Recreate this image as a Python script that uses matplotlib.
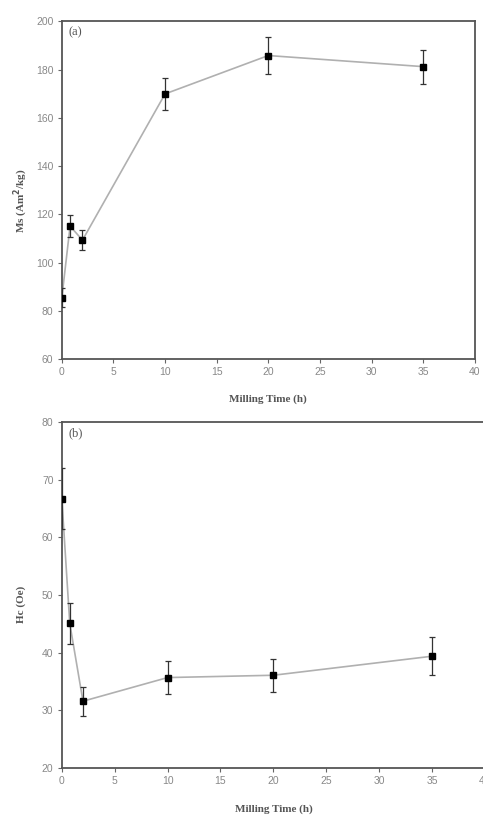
import matplotlib
matplotlib.use("Agg")
import matplotlib.pyplot as plt

# Data
time_ms = [0, 0.8, 2, 10, 20, 35]
ms_values = [85.4, 115.1, 109.3, 169.9, 185.8, 181.2]
ms_err = [3.9, 4.7, 4.1, 6.7, 7.5, 7.1]

time_hc = [0, 0.75, 2, 10, 20, 35]
hc_values = [66.7, 45.1, 31.6, 35.7, 36.1, 39.4]
hc_err = [5.3, 3.5, 2.5, 2.9, 2.9, 3.3]

x_ticks = [0, 5, 10, 15, 20, 25, 30, 35, 40]
ms_ticks = [60, 80, 100, 120, 140, 160, 180, 200]
hc_ticks = [20, 30, 40, 50, 60, 70, 80]

plt.rcParams['font.family'] = ['Liberation Serif', 'DejaVu Serif']

fig = plt.figure(figsize=(4.83, 8.18), dpi=100)
ax1 = fig.add_axes([0.128, 0.561, 0.855, 0.413])
ax2 = fig.add_axes([0.128, 0.061, 0.876, 0.423])

spine_col = '#555555'
tick_col = '#666666'

def style(ax, yticks, ylim, ylabel, panel, xl, yl):
    ax.set_xlim(0, 40)
    ax.set_ylim(*ylim)
    ax.set_xticks(x_ticks)
    ax.set_yticks(yticks)
    for s in ax.spines.values():
        s.set_color(spine_col)
        s.set_linewidth(1.3)
    ax.tick_params(direction='out', length=3, width=0.8, colors=tick_col,
                   labelsize=7.5, labelcolor='#888888', pad=3)
    for lab in ax.get_xticklabels() + ax.get_yticklabels():
        lab.set_family(['Liberation Sans', 'DejaVu Sans'])
    ax.set_xlabel('Milling Time (h)', fontsize=8, fontweight='bold', color='#555555')
    ax.set_ylabel(ylabel, fontsize=8, fontweight='bold', color='#555555')
    ax.xaxis.set_label_coords(0.5, xl)
    ax.xaxis.label.set_va('center')
    ax.yaxis.set_label_coords(yl[0], yl[1])
    ax.yaxis.label.set_va('center')
    ax.text(0.015, 0.985, panel, transform=ax.transAxes, ha='left', va='top',
            fontsize=9, color='#555555')

def plot_series(ax, x, y, e):
    ax.plot(x, y, color='#b0b0b0', lw=1.2, zorder=2)
    ax.errorbar(x, y, yerr=e, fmt='s', color='black', ms=4, ecolor='#333333',
                elinewidth=0.9, capsize=2, capthick=0.9, zorder=3)

plot_series(ax1, time_ms, ms_values, ms_err)
style(ax1, ms_ticks, (60, 200), 'Ms (Am$^\\mathbf{2}$/kg)', '(a)', -0.118, (-0.099, 0.47))

plot_series(ax2, time_hc, hc_values, hc_err)
style(ax2, hc_ticks, (20, 80), 'Hc (Oe)', '(b)', -0.118, (-0.097, 0.474))

fig.savefig('out.png', dpi=100)
